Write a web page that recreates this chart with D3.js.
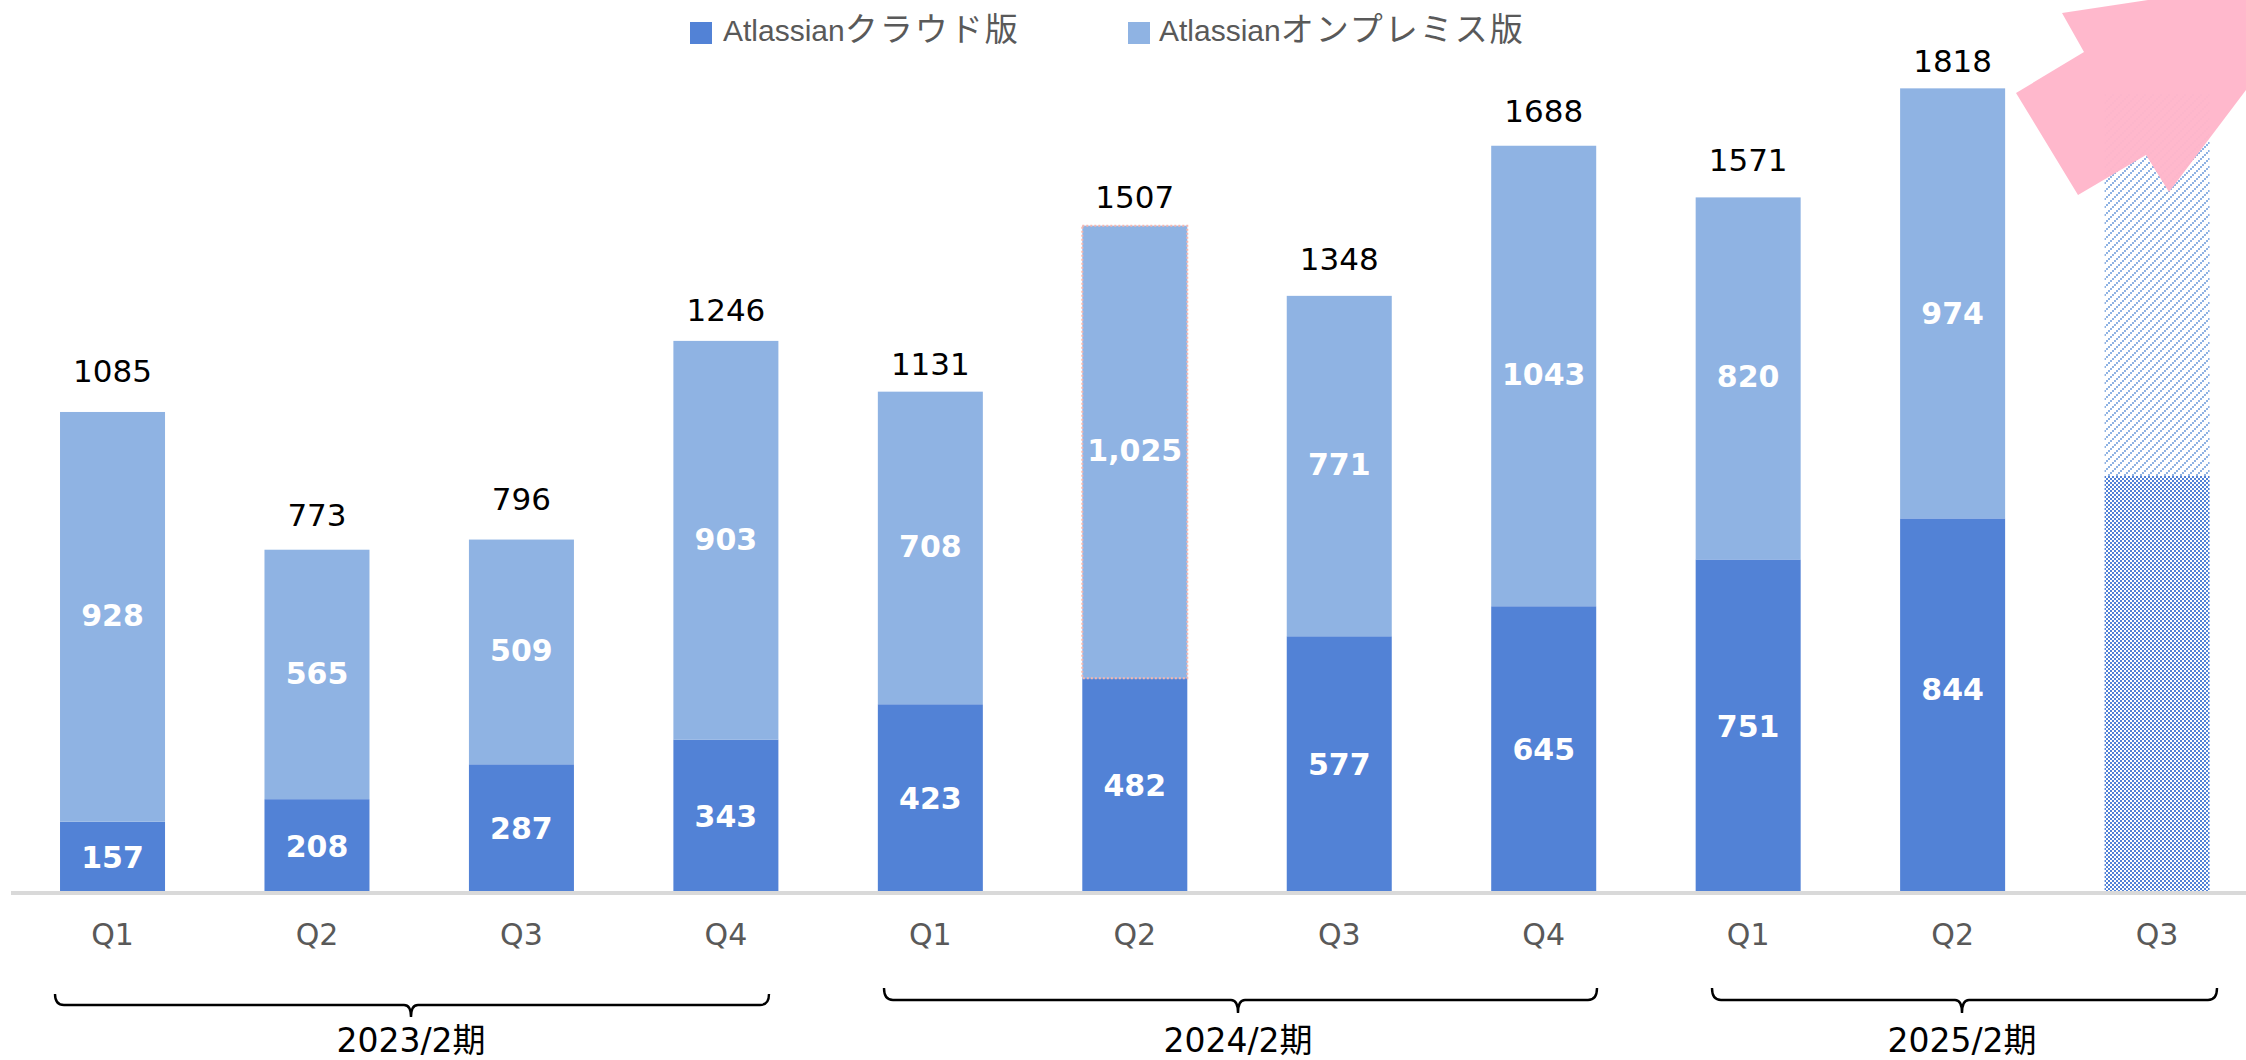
<!DOCTYPE html>
<html lang="ja">
<head>
<meta charset="utf-8">
<script src="https://cdn.jsdelivr.net/npm/d3@7"></script>
<style>
  html, body { margin: 0; padding: 0; background: #fff; overflow: hidden; }
  svg { display: block; }
</style>
</head>
<body>
<svg id="chart" width="2246" height="1060"></svg>
<script>
// Quarterly customer counts per product edition
const periods = ["2023-Q1","2023-Q2","2023-Q3","2023-Q4","2024-Q1","2024-Q2","2024-Q3","2024-Q4","2025-Q1","2025-Q2","2025-Q3"];
const cloudValues = [157,208,287,343,423,482,577,645,751,844,940];
const onPremValues = [928,565,509,903,708,1025,771,1043,820,974,865];
const totalLabels = ["1085","773","796","1246","1131","1507","1348","1688","1571","1818",""];
const cloudLabels = ["157","208","287","343","423","482","577","645","751","844",""];
const onPremLabels = ["928","565","509","903","708","1,025","771","1043","820","974",""];
const forecastPeriods = ["2025-Q3"];
const highlightedPeriods = ["2024-Q2"];
const seriesProduct = "Atlassian";
const seriesEditions = ["クラウド版","オンプレミス版"];
const fiscalGroups = ["2023/2期","2024/2期","2025/2期"];

// Hand-placed label offsets, in pixels
const totalGaps = [41,35,41,31,28,29,37,35,37,27,0];
const cloudNudges = [0,0,0,0,0,0,0,0,0,-16,0];
const onPremNudges = [1,1,1,1,1,1,0,1,0,12,0];

const CLOUD = "#5282D6", ONPREM = "#8FB3E3";
const JP = '"Noto Sans CJK JP", sans-serif';
const NUM = '"DejaVu Sans", "Noto Sans CJK JP", sans-serif';

const svg = d3.select("#chart");
const baseline = 891;

const x = d3.scaleBand().domain(periods).range([10.3, 2259.3]).paddingInner(0.4864).paddingOuter(0.2432);
const y = d3.scaleLinear().domain([0, 2000]).range([baseline, baseline - 2000 * 0.4415]);

// Fill patterns for the forecast bar
const defs = svg.append("defs");
const hatch = defs.append("pattern").attr("id", "hatch").attr("patternUnits", "userSpaceOnUse")
  .attr("width", 8).attr("height", 8).attr("shape-rendering", "crispEdges");
[[0,6],[2,4],[4,2],[6,0]].forEach(([a,b]) => hatch.append("rect").attr("x",a).attr("y",b).attr("width",2).attr("height",2).attr("fill",ONPREM));
const check = defs.append("pattern").attr("id", "check").attr("patternUnits", "userSpaceOnUse")
  .attr("width", 4).attr("height", 4).attr("shape-rendering", "crispEdges");
[[0,0],[2,2]].forEach(([a,b]) => check.append("rect").attr("x",a).attr("y",b).attr("width",2).attr("height",2).attr("fill",CLOUD));

const isForecast = d => forecastPeriods.includes(d);

// Stacked bars
const rows = periods.map((p, i) => ({ period: p, cloud: cloudValues[i], onPrem: onPremValues[i], i }));
const bars = svg.append("g").selectAll("g").data(rows).join("g");

bars.append("rect").attr("class", "cloud")
  .attr("x", d => x(d.period)).attr("width", x.bandwidth())
  .attr("y", d => y(d.cloud)).attr("height", d => y(0) - y(d.cloud))
  .attr("fill", d => isForecast(d.period) ? "url(#check)" : CLOUD);

bars.append("rect").attr("class", "onprem")
  .attr("x", d => x(d.period)).attr("width", x.bandwidth())
  .attr("y", d => y(d.cloud + d.onPrem)).attr("height", d => y(d.cloud) - y(d.cloud + d.onPrem))
  .attr("fill", d => isForecast(d.period) ? "url(#hatch)" : ONPREM)
  .attr("stroke", d => highlightedPeriods.includes(d.period) ? "#F7B7AE" : "none")
  .attr("stroke-width", 2)
  .attr("stroke-dasharray", "2 2");

// Value labels inside the segments and totals above them
const valueLabel = (sel, yFn, textFn) => sel.append("text")
  .attr("x", d => x(d.period) + x.bandwidth() / 2)
  .attr("y", yFn)
  .attr("text-anchor", "middle")
  .attr("dominant-baseline", "central")
  .attr("font-family", NUM)
  .text(textFn);

valueLabel(bars, d => y(d.cloud / 2) + 1 + cloudNudges[d.i], d => cloudLabels[d.i])
  .attr("font-size", 30).attr("font-weight", 700).attr("fill", "#fff");
valueLabel(bars, d => y(d.cloud + d.onPrem / 2) - 2 + onPremNudges[d.i], d => onPremLabels[d.i])
  .attr("font-size", 30).attr("font-weight", 700).attr("fill", "#fff");
valueLabel(bars, d => y(d.cloud + d.onPrem) - totalGaps[d.i], d => totalLabels[d.i])
  .attr("font-size", 31).attr("fill", "#000");

// Category axis
const axis = svg.append("g").attr("transform", `translate(0,${baseline + 2})`)
  .call(d3.axisBottom(x).tickSize(0).tickPadding(31).tickFormat(d => d.split("-")[1]));
axis.select(".domain").attr("d", "M11,0H2246").attr("stroke", "#D9D9D9").attr("stroke-width", 4);
axis.selectAll("text").attr("font-family", NUM).attr("font-size", 30).attr("fill", "#595959");

// Legend: product name and edition are set in different faces
const legend = svg.append("g");
const legendItems = [
  { edition: seriesEditions[0], color: CLOUD, sx: 690, tx: 723 },
  { edition: seriesEditions[1], color: ONPREM, sx: 1128, tx: 1159 }
];
legendItems.forEach(it => {
  legend.append("rect").attr("x", it.sx).attr("y", 22).attr("width", 22).attr("height", 22).attr("fill", it.color);
  const t = legend.append("text").attr("x", it.tx).attr("y", 41).attr("fill", "#595959");
  t.append("tspan").attr("font-family", '"Liberation Sans", sans-serif').attr("font-size", 30).text(seriesProduct);
  t.append("tspan").attr("font-family", JP).attr("font-size", 33).attr("letter-spacing", 2).text(it.edition);
});

// Fiscal-year braces under the axis
const braceLayout = [
  { x0: 55, x1: 769, cx: 411, top: 994, mid: 1005, tip: 1017, ly: 1052 },
  { x0: 884, x1: 1597, cx: 1238, top: 988, mid: 1000, tip: 1013, ly: 1052 },
  { x0: 1712, x1: 2217, cx: 1962, top: 988, mid: 1000, tip: 1013, ly: 1052 }
];
braceLayout.forEach((b, i) => {
  const r = 7;
  const path = d3.path();
  path.moveTo(b.x0, b.top);
  path.quadraticCurveTo(b.x0, b.mid, b.x0 + r + 2, b.mid);
  path.lineTo(b.cx - r, b.mid);
  path.quadraticCurveTo(b.cx, b.mid, b.cx, b.tip);
  path.quadraticCurveTo(b.cx, b.mid, b.cx + r, b.mid);
  path.lineTo(b.x1 - r - 2, b.mid);
  path.quadraticCurveTo(b.x1, b.mid, b.x1, b.top);
  svg.append("path").attr("d", path.toString()).attr("fill", "none").attr("stroke", "#000").attr("stroke-width", 2.4);
  svg.append("text").attr("x", b.cx).attr("y", b.ly).attr("text-anchor", "middle")
    .attr("font-family", NUM).attr("font-size", 33).attr("fill", "#000").text(fiscalGroups[i]);
});

// Growth arrow leaving the upper right corner
const arrow = [[2062,13],[2084,52],[2016,93],[2078,195],[2146,155],[2169,192],[2246,90],[2246,0],[2148,0]];
svg.append("path").attr("d", d3.line()(arrow) + "Z").attr("fill", "#FFB6CA").attr("fill-opacity", 0.97);
</script>
</body>
</html>
